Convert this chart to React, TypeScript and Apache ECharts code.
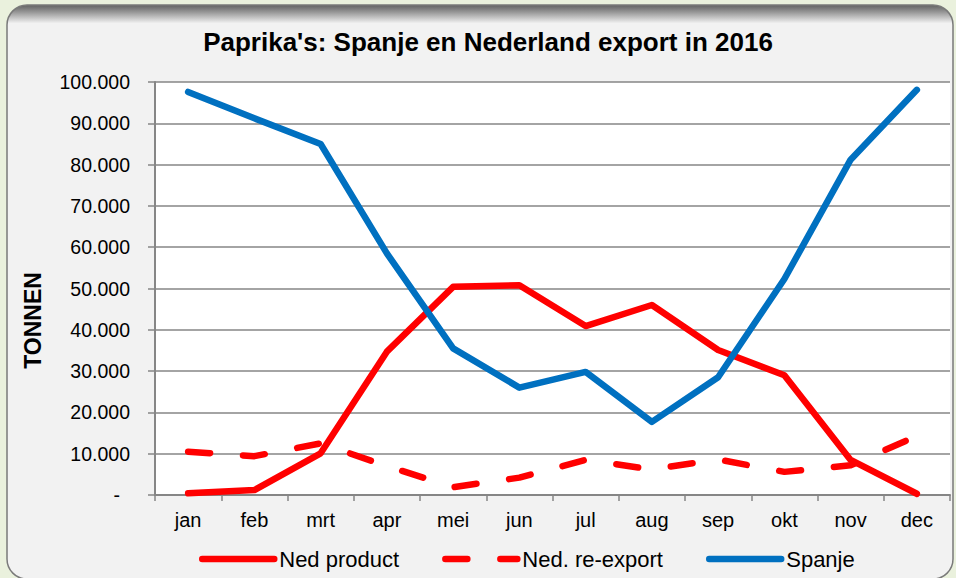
import React, { useEffect, useRef } from "react";
import * as echarts from "echarts";

const months = ["jan", "feb", "mrt", "apr", "mei", "jun", "jul", "aug", "sep", "okt", "nov", "dec"];
const nedProduct = [400, 1200, 10100, 34700, 50400, 50800, 40900, 46000, 35100, 29000, 8500, 300];
const reExport = [10500, 9400, 12500, 7000, 1900, 4200, 8500, 6200, 8600, 5600, 7200, 14300];
const spanje = [97600, 91200, 85000, 58500, 35500, 26000, 29800, 17700, 28500, 52300, 81200, 98100];
const seriesNames = ["Ned product", "Ned. re-export", "Spanje"];
const titleText = "Paprika's: Spanje en Nederland export in 2016";
const yAxisName = "TONNEN";

const FONT = "Arial, 'Liberation Sans', sans-serif";

function fmt(v: number): string {
  if (v === 0) return "{d|-}";
  return String(v).replace(/\B(?=(\d{3})+(?!\d))/g, ".");
}

export default function App() {
  const ref = useRef<HTMLDivElement>(null);
  useEffect(() => {
    if (!ref.current) return;
    const chart = echarts.init(ref.current, null, { renderer: "svg" });
    const red = "#FF0000";
    const blue = "#0070C0";
    chart.setOption({
      animation: false,
      backgroundColor: "#EAF1DD",
      textStyle: { fontFamily: FONT },
      graphic: [
        {
          type: "rect",
          z: -10,
          shape: { x: 7, y: 5, width: 946, height: 574, r: 20 },
          style: {
            fill: new echarts.graphic.LinearGradient(0, 0, 0, 1, [
              { offset: 0, color: "#626262" },
              { offset: 0.012, color: "#959595" },
              { offset: 0.032, color: "#f2f2f2" },
              { offset: 1, color: "#f2f2f2" },
            ]),
            stroke: "#7a7a7a",
            lineWidth: 1.5,
          },
        },
      ],
      title: {
        text: titleText,
        left: 488,
        textAlign: "center",
        top: 29,
        padding: 0,
        textStyle: { fontFamily: FONT, fontSize: 26, fontWeight: "bold", color: "#000" },
      },
      grid: {
        left: 155,
        right: 6,
        top: 82,
        bottom: 83,
        show: true,
        backgroundColor: "#FFFFFF",
        borderWidth: 0,
      },
      legend: {
        data: seriesNames,
        left: 199,
        top: 548,
        padding: 0,
        itemWidth: 72,
        itemHeight: 26,
        itemGap: 43,
        textStyle: { fontFamily: FONT, fontSize: 22, color: "#000" },
        itemStyle: { opacity: 0 },
        lineStyle: { width: 6.5, cap: "round" },
      },
      xAxis: {
        type: "category",
        data: months,
        boundaryGap: true,
        axisLine: { show: true, lineStyle: { color: "#868686", width: 2 } },
        axisTick: { show: true, length: 6, lineStyle: { color: "#868686", width: 1.5 } },
        axisLabel: { color: "#000", fontSize: 20, margin: 15, fontFamily: FONT },
        splitLine: { show: false },
      },
      yAxis: {
        type: "value",
        min: 0,
        max: 100000,
        interval: 10000,
        name: yAxisName,
        nameLocation: "middle",
        nameRotate: 90,
        nameGap: 111,
        nameTextStyle: {
          fontFamily: FONT,
          fontSize: 23,
          fontWeight: "bold",
          color: "#000",
          padding: [0, 64, 0, 0],
        },
        axisLine: { show: true, lineStyle: { color: "#868686", width: 2 } },
        axisTick: { show: true, length: 7, lineStyle: { color: "#868686", width: 1.5 } },
        axisLabel: {
          color: "#000",
          fontSize: 19.5,
          margin: 25,
          fontFamily: FONT,
          formatter: fmt,
          rich: { d: { fontSize: 19.5, padding: [0, 10, 0, 0], fontFamily: FONT, color: "#000" } },
        },
        splitLine: { show: true, lineStyle: { color: "#868686", width: 1.5 } },
      },
      series: [
        {
          name: seriesNames[0],
          type: "line",
          data: nedProduct,
          symbol: "none",
          smooth: false,
          color: red,
          lineStyle: { color: red, width: 6.5, cap: "round", join: "round" },
          z: 3,
        },
        {
          name: seriesNames[1],
          type: "line",
          data: reExport,
          symbol: "none",
          smooth: false,
          color: red,
          lineStyle: { color: red, width: 6.5, type: [22, 33], cap: "round", join: "round" },
          z: 2,
        },
        {
          name: seriesNames[2],
          type: "line",
          data: spanje,
          symbol: "none",
          smooth: false,
          color: blue,
          lineStyle: { color: blue, width: 6.5, cap: "round", join: "round" },
          z: 4,
        },
      ],
    });
    return () => chart.dispose();
  }, []);
  return (
    <div
      ref={ref}
      style={{ position: "fixed", left: 0, top: 0, width: 956, height: 578 }}
    />
  );
}
